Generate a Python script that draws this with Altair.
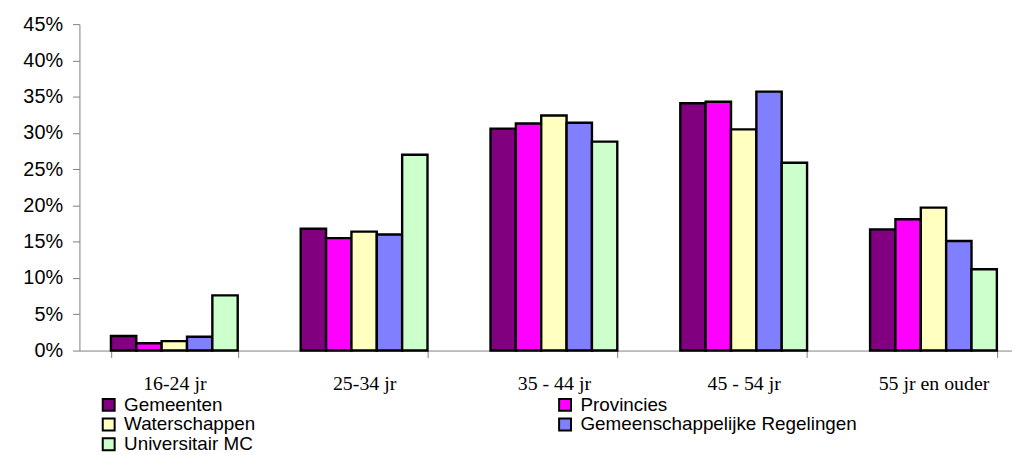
import altair as alt
import pandas as pd

categories = ["16-24 jr", "25-34 jr", "35 - 44 jr", "45 - 54 jr", "55 jr en ouder"]
series = ["Gemeenten", "Provincies", "Waterschappen", "Gemeenschappelijke Regelingen", "Universitair MC"]
gemeenten = [2.0, 16.8, 30.6, 34.1, 16.7]
provincies = [1.0, 15.5, 31.3, 34.3, 18.1]
waterschappen = [1.3, 16.4, 32.4, 30.5, 19.7]
gem_regelingen = [1.9, 16.0, 31.4, 35.7, 15.1]
universitair_mc = [7.6, 27.0, 28.8, 25.9, 11.2]
colors = ["#800080", "#FF00FF", "#FFFFC0", "#8080FF", "#CCFFCC"]
y_ticks = [0, 5, 10, 15, 20, 25, 30, 35, 40, 45]

values = [gemeenten, provincies, waterschappen, gem_regelingen, universitair_mc]
rows = []
for s, vals in zip(series, values):
    for c, v in zip(categories, vals):
        rows.append({"categorie": c, "serie": s, "waarde": v})
df = pd.DataFrame(rows)

chart = alt.Chart(df).mark_bar(stroke="black", strokeWidth=2.4).encode(
    x=alt.X(
        "categorie:N",
        sort=categories,
        title=None,
        scale=alt.Scale(range=[0, 956.5], paddingInner=0.332, paddingOuter=0.166),
        axis=alt.Axis(
            labelAngle=0,
            labelFont="Liberation Serif",
            labelFontSize=20,
            labelColor="black",
            labelPadding=16,
            tickBand="extent",
            tickSize=7,
            tickColor="#808080",
            domainColor="#808080",
            labelBaseline="top",
        ),
    ),
    xOffset=alt.XOffset("serie:N", sort=series, scale=alt.Scale(paddingInner=0, paddingOuter=0)),
    y=alt.Y(
        "waarde:Q",
        title=None,
        scale=alt.Scale(domain=[0, 45], nice=False),
        axis=alt.Axis(
            values=y_ticks,
            labelExpr="datum.value + '%'",
            grid=False,
            labelFont="Liberation Sans",
            labelFontSize=20,
            labelColor="black",
            labelPadding=10,
            tickSize=7,
            tickColor="#808080",
            domainColor="#808080",
        ),
    ),
    color=alt.Color(
        "serie:N",
        sort=series,
        scale=alt.Scale(domain=series, range=colors),
        legend=alt.Legend(
            title=None,
            orient="none",
            direction="horizontal",
            legendX=20,
            legendY=374,
            columns=2,
            columnPadding=301,
            rowPadding=-1,
            padding=0,
            symbolType="square",
            symbolSize=144,
            symbolStrokeColor="black",
            symbolStrokeWidth=2,
            symbolOpacity=1,
            labelFont="Liberation Sans",
            labelFontSize=19,
            labelColor="black",
            labelOffset=6,
            labelLimit=400,
        ),
    ),
).properties(
    width=940,
    height=329,
    padding={"left": 72, "top": 14.5, "right": 0, "bottom": 103.5},
    autosize=alt.AutoSizeParams(type="none"),
).configure_view(stroke=None)

chart.save("out.html", embed_options={"renderer": "svg", "actions": False})
